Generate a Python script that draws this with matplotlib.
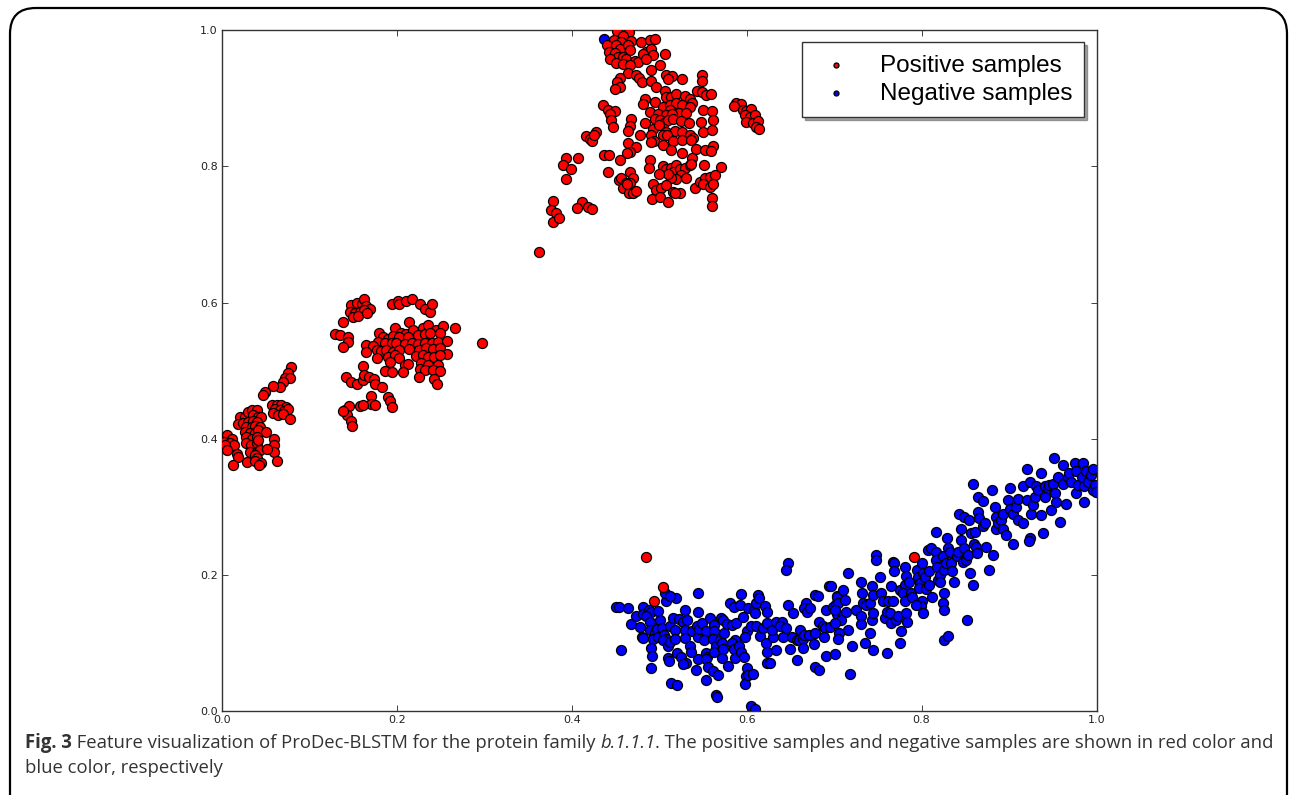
import matplotlib
matplotlib.use("Agg")
import matplotlib.pyplot as plt
from matplotlib.patches import FancyBboxPatch

# positive samples (red)
pos_x = [
    0.079, 0.076, 0.072, 0.078, 0.070, 0.067, 0.058, 0.049, 0.047,
    0.057, 0.0625, 0.068, 0.073, 0.061, 0.066, 0.071, 0.076, 0.059, 0.064, 0.070, 0.078,
    0.0206, 0.0263, 0.030, 0.034, 0.040, 0.0357, 0.0415, 0.045, 0.0187, 0.0244, 0.030,
    0.0357, 0.040, 0.028, 0.034, 0.0377, 0.0434, 0.0263, 0.032, 0.0377, 0.0415, 0.028,
    0.034, 0.040, 0.0053, 0.011, 0.002, 0.009, 0.014, 0.003, 0.0053, 0.028, 0.033,
    0.040, 0.0415, 0.032, 0.040, 0.0434, 0.0168, 0.0187, 0.0377, 0.040, 0.013, 0.029,
    0.0377, 0.045, 0.042, 0.060, 0.060, 0.060, 0.0625, 0.050, 0.052,
    0.148, 0.154, 0.160, 0.163, 0.165, 0.169, 0.146, 0.152, 0.158, 0.163, 0.150, 0.156,
    0.166, 0.194, 0.2015, 0.203, 0.211, 0.217, 0.226, 0.232, 0.238, 0.240, 0.138, 0.129,
    0.135, 0.144, 0.144, 0.138, 0.214, 0.1985, 0.205, 0.211, 0.219, 0.230, 0.236, 0.245,
    0.253, 0.267, 0.180, 0.184, 0.190, 0.196, 0.203, 0.213, 0.224, 0.232, 0.238, 0.249,
    0.179, 0.186, 0.194, 0.1996, 0.209, 0.217, 0.224, 0.232, 0.240, 0.247, 0.257, 0.165,
    0.173, 0.177, 0.1825, 0.188, 0.196, 0.203, 0.214, 0.2255, 0.233, 0.241, 0.249, 0.2575,
    0.165, 0.190, 0.198, 0.203, 0.2225, 0.230, 0.236, 0.243, 0.249, 0.177, 0.192, 0.209,
    0.213, 0.228, 0.236, 0.247, 0.1615, 0.186, 0.194, 0.207, 0.226, 0.232, 0.2415, 0.249,
    0.225, 0.243, 0.2465, 0.2975, 0.1417, 0.148, 0.154, 0.1615, 0.163, 0.168, 0.174,
    0.175, 0.1836, 0.171, 0.190, 0.192, 0.194, 0.171, 0.175, 0.158, 0.161, 0.1406,
    0.1455, 0.143, 0.148, 0.1493, 0.1387,
    0.4518, 0.4651, 0.4587, 0.4480, 0.4568, 0.4682, 0.4796, 0.4899, 0.4949, 0.4400,
    0.4510, 0.4549, 0.4644, 0.4663, 0.4423, 0.4491, 0.4530, 0.4587, 0.4625, 0.4720,
    0.4758, 0.4438, 0.4510, 0.4587, 0.4663, 0.4853, 0.4910, 0.4930, 0.4815, 0.4846,
    0.5063, 0.5006, 0.4910, 0.4644, 0.4739, 0.4770, 0.4808, 0.4910, 0.4968, 0.5082,
    0.5150, 0.5101, 0.5265, 0.5493, 0.5493, 0.4549, 0.4522, 0.4549, 0.4491, 0.5063,
    0.5082, 0.5139, 0.5196, 0.5291, 0.5349, 0.5379, 0.5432, 0.5493, 0.5539, 0.5596,
    0.4834, 0.4815, 0.4949, 0.5044, 0.5120, 0.5189, 0.5265, 0.5227, 0.5349, 0.5120,
    0.4899, 0.4987, 0.5074, 0.5150, 0.5310, 0.5501, 0.5608, 0.4358, 0.4420, 0.4491,
    0.4438, 0.4450, 0.4469, 0.4682, 0.4663, 0.4644, 0.4834, 0.4949, 0.5006, 0.5051,
    0.5101, 0.5158, 0.5253, 0.5341, 0.5482, 0.5615, 0.4930, 0.4998, 0.5082, 0.5177,
    0.5265, 0.5349, 0.5387, 0.5501, 0.5608, 0.4785, 0.4910, 0.4937, 0.5044, 0.5090,
    0.5158, 0.5265, 0.5368, 0.5425, 0.5520, 0.5615, 0.5596, 0.4903, 0.5044, 0.5139,
    0.5265, 0.5379, 0.5509, 0.5710, 0.4644, 0.4739, 0.4671, 0.4632, 0.4549, 0.4411,
    0.4366, 0.4423, 0.4891, 0.4884, 0.5044, 0.5082, 0.5139, 0.5196, 0.5158, 0.5234,
    0.5291, 0.5349, 0.5368, 0.5253, 0.5303, 0.5196, 0.5139, 0.5101, 0.4998, 0.4671,
    0.4701, 0.4663, 0.4541, 0.4568, 0.4617, 0.4587, 0.4655, 0.4701, 0.4731, 0.4632,
    0.4930, 0.4968, 0.5025, 0.4922, 0.5006, 0.5101, 0.5082, 0.5158, 0.5242, 0.5177,
    0.5406, 0.5463, 0.5520, 0.5577, 0.5634, 0.5501, 0.5585, 0.5615, 0.5608, 0.5608,
    0.5882, 0.5939, 0.5851, 0.5958, 0.5996, 0.6053, 0.5977, 0.6034, 0.6091, 0.5996,
    0.6072, 0.6130, 0.6103, 0.6141,
    0.3939, 0.4072, 0.3901, 0.3996, 0.3931, 0.4168, 0.4206, 0.4236, 0.4274, 0.4251,
    0.3787, 0.3768, 0.3825, 0.4118, 0.4061, 0.4187, 0.4236, 0.379, 0.385, 0.363,
    0.4846, 0.5044, 0.4937, 0.791,
]
pos_y = [
    0.505, 0.497, 0.489, 0.489, 0.483, 0.476, 0.478, 0.468, 0.464,
    0.449, 0.450, 0.449, 0.447, 0.443, 0.442, 0.440, 0.443, 0.437, 0.435, 0.436, 0.429,
    0.432, 0.432, 0.4395, 0.442, 0.442, 0.4347, 0.432, 0.432, 0.421, 0.4225, 0.425,
    0.426, 0.425, 0.4175, 0.4175, 0.419, 0.4175, 0.410, 0.408, 0.409, 0.4127, 0.403,
    0.400, 0.403, 0.405, 0.400, 0.395, 0.393, 0.3906, 0.3906, 0.383, 0.393, 0.3906,
    0.393, 0.398, 0.381, 0.381, 0.383, 0.378, 0.373, 0.376, 0.371, 0.362, 0.366,
    0.367, 0.364, 0.3615, 0.400, 0.3906, 0.381, 0.367, 0.410, 0.385,
    0.596, 0.599, 0.598, 0.605, 0.595, 0.591, 0.586, 0.584, 0.586, 0.589, 0.579, 0.580,
    0.585, 0.598, 0.6025, 0.598, 0.6025, 0.605, 0.598, 0.591, 0.586, 0.598, 0.571, 0.5536,
    0.552, 0.549, 0.542, 0.534, 0.572, 0.562, 0.5556, 0.5536, 0.560, 0.562, 0.567, 0.560,
    0.565, 0.562, 0.5546, 0.549, 0.546, 0.551, 0.549, 0.550, 0.552, 0.5536, 0.5546, 0.5546,
    0.542, 0.540, 0.541, 0.540, 0.539, 0.541, 0.539, 0.540, 0.541, 0.542, 0.544, 0.537,
    0.536, 0.530, 0.529, 0.530, 0.528, 0.530, 0.531, 0.530, 0.5326, 0.531, 0.5326, 0.525,
    0.528, 0.520, 0.523, 0.519, 0.521, 0.523, 0.520, 0.520, 0.523, 0.518, 0.513, 0.508,
    0.5095, 0.5105, 0.508, 0.508, 0.5066, 0.4998, 0.498, 0.498, 0.503, 0.5007, 0.5007, 0.4998,
    0.491, 0.487, 0.481, 0.541, 0.491, 0.4836, 0.481, 0.486, 0.493, 0.490, 0.487,
    0.481, 0.476, 0.4626, 0.4616, 0.4557, 0.446, 0.4508, 0.4494, 0.448, 0.449, 0.442,
    0.448, 0.4347, 0.4263, 0.4185, 0.441,
    0.9985, 0.9976, 0.9917, 0.9853, 0.9829, 0.9839, 0.9829, 0.9853, 0.9868, 0.9780,
    0.9780, 0.9731, 0.9790, 0.9706, 0.9682, 0.9672, 0.9608, 0.9608, 0.9584, 0.9545,
    0.9535, 0.9584, 0.9525, 0.9510, 0.9496, 0.9682, 0.9731, 0.9643, 0.9657, 0.9574,
    0.9657, 0.9486, 0.9413, 0.9378, 0.9339, 0.9300, 0.9241, 0.9251, 0.9168, 0.9349,
    0.9324, 0.9280, 0.9290, 0.9339, 0.9251, 0.9300, 0.9241, 0.9168, 0.9134, 0.9104,
    0.9021, 0.9021, 0.9070, 0.9036, 0.8987, 0.8938, 0.9104, 0.9094, 0.9046, 0.9070,
    0.8987, 0.8923, 0.8948, 0.8874, 0.8899, 0.8938, 0.8899, 0.8791, 0.8874, 0.8825,
    0.8801, 0.8762, 0.8752, 0.8762, 0.8791, 0.8825, 0.8810, 0.8899, 0.8825, 0.8810,
    0.8762, 0.8678, 0.8581, 0.8693, 0.8595, 0.8517, 0.8644, 0.8693, 0.8678, 0.8630,
    0.8678, 0.8703, 0.8664, 0.8630, 0.8654, 0.8678, 0.8556, 0.8605, 0.8507, 0.8517,
    0.8507, 0.8458, 0.8419, 0.8507, 0.8532, 0.8458, 0.8458, 0.8370, 0.8458, 0.8458,
    0.8370, 0.8385, 0.8385, 0.8253, 0.8238, 0.8301, 0.8223, 0.8360, 0.8321, 0.8238,
    0.8203, 0.8116, 0.8027, 0.7993, 0.8336, 0.8287, 0.8213, 0.8189, 0.8091, 0.7920,
    0.8160, 0.8174, 0.8091, 0.7978, 0.8003, 0.7968, 0.7978, 0.8018, 0.7920, 0.7959,
    0.7978, 0.8018, 0.8042, 0.7871, 0.7832, 0.7812, 0.7832, 0.7881, 0.7881, 0.7920,
    0.7822, 0.7758, 0.7797, 0.7836, 0.7758, 0.7685, 0.7606, 0.7602, 0.7636, 0.7734,
    0.7734, 0.7651, 0.7685, 0.7518, 0.7553, 0.7480, 0.7724, 0.7626, 0.7602, 0.7602,
    0.7685, 0.7773, 0.7822, 0.7846, 0.7871, 0.7734, 0.7699, 0.7748, 0.7528, 0.7421,
    0.8938, 0.8923, 0.8889, 0.8825, 0.8810, 0.8840, 0.8752, 0.8727, 0.8752, 0.8654,
    0.8644, 0.8664, 0.8581, 0.8546,
    0.8125, 0.8125, 0.8027, 0.7968, 0.7812, 0.8445, 0.8396, 0.8372, 0.8505, 0.8456,
    0.7489, 0.7357, 0.7308, 0.7480, 0.7391, 0.7396, 0.7381, 0.7186, 0.724, 0.6745,
    0.2257, 0.1826, 0.162, 0.2266,
]

# negative samples (blue)
neg_x = [
    0.4366,
    0.451, 0.454, 0.464, 0.456, 0.468, 0.473, 0.478, 0.482, 0.481, 0.488, 0.491, 0.485,
    0.489, 0.480, 0.482, 0.490, 0.495, 0.493, 0.491, 0.492, 0.491, 0.499, 0.501, 0.498,
    0.499, 0.503, 0.506, 0.508, 0.504, 0.512, 0.510, 0.518, 0.512, 0.518, 0.520, 0.516,
    0.519, 0.508, 0.507, 0.512, 0.523, 0.527, 0.530, 0.532, 0.529, 0.530, 0.535, 0.536,
    0.525, 0.531, 0.527, 0.510, 0.511, 0.514, 0.520, 0.544, 0.544, 0.538, 0.543, 0.544,
    0.546, 0.549, 0.553, 0.551, 0.544, 0.553, 0.555, 0.554, 0.556, 0.542, 0.554, 0.562,
    0.567, 0.565, 0.566, 0.558, 0.563, 0.563, 0.562, 0.565, 0.563, 0.570, 0.571, 0.573,
    0.574, 0.572, 0.573, 0.572, 0.579, 0.577, 0.583, 0.581, 0.586, 0.588, 0.587, 0.583,
    0.585, 0.587, 0.592, 0.596, 0.594, 0.591, 0.593, 0.597, 0.600, 0.599, 0.598, 0.602,
    0.607, 0.600, 0.598, 0.602, 0.608, 0.610, 0.611, 0.613, 0.614, 0.605, 0.611, 0.615,
    0.619, 0.623, 0.621, 0.623, 0.622, 0.623, 0.623, 0.627, 0.630, 0.629, 0.634, 0.640,
    0.642, 0.638, 0.633, 0.645, 0.647, 0.653, 0.652, 0.650, 0.657, 0.657, 0.660, 0.661,
    0.664, 0.664, 0.668, 0.666, 0.669, 0.673, 0.665, 0.671, 0.678, 0.677, 0.678, 0.683,
    0.678, 0.682, 0.683, 0.687, 0.691, 0.690, 0.689, 0.691, 0.695, 0.699, 0.694, 0.702,
    0.703, 0.701, 0.703, 0.647, 0.645, 0.605, 0.609,
    0.697, 0.703, 0.704, 0.701, 0.710, 0.712, 0.714, 0.708, 0.701, 0.716, 0.706, 0.716,
    0.725, 0.731, 0.732, 0.733, 0.731, 0.731, 0.737, 0.741, 0.743, 0.744, 0.743, 0.744,
    0.741, 0.748, 0.748, 0.752, 0.754, 0.756, 0.758, 0.760, 0.762, 0.765, 0.767, 0.769,
    0.767, 0.765, 0.764, 0.769, 0.771, 0.773, 0.775, 0.776, 0.781, 0.782, 0.781, 0.779,
    0.781, 0.782, 0.783, 0.786, 0.788, 0.789, 0.795, 0.796, 0.798, 0.797, 0.800, 0.800,
    0.799, 0.794, 0.802, 0.802, 0.804, 0.805, 0.807, 0.809, 0.811, 0.809, 0.812, 0.816,
    0.817, 0.816, 0.818, 0.819, 0.821, 0.821, 0.824, 0.826, 0.828, 0.829, 0.826, 0.825,
    0.826, 0.830, 0.832, 0.834, 0.835, 0.837, 0.840, 0.842, 0.843, 0.845, 0.845, 0.847,
    0.849, 0.849, 0.851, 0.853, 0.854, 0.855, 0.859, 0.857, 0.861, 0.860, 0.862, 0.863,
    0.864, 0.866, 0.859, 0.864, 0.870, 0.870, 0.872, 0.874, 0.877, 0.882, 0.880, 0.884,
    0.885, 0.885, 0.887, 0.891, 0.893, 0.893, 0.897, 0.899, 0.901, 0.901, 0.904, 0.904,
    0.908, 0.910, 0.910, 0.916, 0.916, 0.920, 0.920, 0.924, 0.923, 0.924, 0.925, 0.927,
    0.930, 0.931, 0.933, 0.937, 0.937, 0.939, 0.941, 0.941, 0.944, 0.946, 0.948, 0.950,
    0.951, 0.953, 0.956, 0.954, 0.958, 0.962, 0.962, 0.965, 0.967, 0.969, 0.971, 0.975,
    0.977, 0.977, 0.979, 0.983, 0.985, 0.986, 0.986, 0.988, 0.990, 0.994, 0.996, 0.996,
    0.998, 0.999, 0.852, 0.826, 0.830,
    0.718, 0.745, 0.760, 0.775, 0.735, 0.720, 0.705,
]
neg_y = [
    0.9868,
    0.152, 0.152, 0.151, 0.090, 0.128, 0.140, 0.123, 0.152, 0.143, 0.148, 0.146, 0.139,
    0.131, 0.108, 0.107, 0.119, 0.115, 0.105, 0.092, 0.081, 0.063, 0.147, 0.134, 0.120,
    0.109, 0.122, 0.112, 0.105, 0.104, 0.125, 0.095, 0.119, 0.102, 0.105, 0.085, 0.136,
    0.166, 0.162, 0.174, 0.169, 0.135, 0.131, 0.148, 0.133, 0.119, 0.107, 0.096, 0.086,
    0.080, 0.070, 0.069, 0.078, 0.073, 0.041, 0.038, 0.173, 0.146, 0.118, 0.125, 0.109,
    0.120, 0.129, 0.117, 0.104, 0.076, 0.085, 0.080, 0.076, 0.064, 0.060, 0.046, 0.059,
    0.053, 0.024, 0.020, 0.136, 0.126, 0.118, 0.105, 0.095, 0.086, 0.104, 0.136, 0.134,
    0.115, 0.100, 0.091, 0.078, 0.066, 0.128, 0.126, 0.158, 0.152, 0.129, 0.104, 0.100,
    0.091, 0.078, 0.156, 0.138, 0.172, 0.096, 0.087, 0.080, 0.063, 0.052, 0.040, 0.053,
    0.055, 0.117, 0.109, 0.151, 0.148, 0.144, 0.159, 0.170, 0.166, 0.125, 0.125, 0.110,
    0.122, 0.129, 0.154, 0.145, 0.100, 0.087, 0.071, 0.070, 0.109, 0.119, 0.131, 0.131,
    0.109, 0.125, 0.090, 0.122, 0.156, 0.144, 0.109, 0.091, 0.104, 0.075, 0.104, 0.119,
    0.105, 0.092, 0.159, 0.151, 0.146, 0.151, 0.112, 0.112, 0.115, 0.099, 0.064, 0.060,
    0.170, 0.169, 0.131, 0.125, 0.148, 0.122, 0.109, 0.081, 0.123, 0.153, 0.184, 0.157,
    0.169, 0.083, 0.143, 0.217, 0.207, 0.007, 0.003,
    0.183, 0.168, 0.159, 0.149, 0.178, 0.163, 0.146, 0.134, 0.129, 0.119, 0.114, 0.203,
    0.149, 0.190, 0.173, 0.159, 0.139, 0.128, 0.156, 0.159, 0.183, 0.171, 0.134, 0.144,
    0.114, 0.229, 0.222, 0.197, 0.174, 0.161, 0.136, 0.146, 0.161, 0.129, 0.219, 0.217,
    0.161, 0.183, 0.144, 0.206, 0.134, 0.139, 0.178, 0.118, 0.212, 0.198, 0.185, 0.173,
    0.161, 0.144, 0.130, 0.189, 0.173, 0.168, 0.207, 0.197, 0.188, 0.180, 0.218, 0.161,
    0.154, 0.156, 0.144, 0.202, 0.197, 0.179, 0.237, 0.205, 0.239, 0.185, 0.168, 0.263,
    0.234, 0.222, 0.212, 0.193, 0.200, 0.189, 0.227, 0.207, 0.217, 0.254, 0.173, 0.158,
    0.149, 0.239, 0.234, 0.218, 0.205, 0.190, 0.227, 0.234, 0.290, 0.268, 0.251, 0.219,
    0.239, 0.285, 0.222, 0.229, 0.281, 0.202, 0.185, 0.262, 0.263, 0.246, 0.241, 0.232,
    0.293, 0.283, 0.333, 0.314, 0.309, 0.271, 0.276, 0.241, 0.207, 0.229, 0.324, 0.299,
    0.285, 0.268, 0.276, 0.281, 0.290, 0.268, 0.259, 0.310, 0.327, 0.296, 0.290, 0.246,
    0.300, 0.312, 0.281, 0.276, 0.330, 0.356, 0.310, 0.254, 0.249, 0.337, 0.290, 0.303,
    0.315, 0.330, 0.324, 0.349, 0.288, 0.262, 0.331, 0.315, 0.327, 0.332, 0.295, 0.334,
    0.371, 0.320, 0.344, 0.307, 0.278, 0.334, 0.361, 0.304, 0.344, 0.349, 0.337, 0.364,
    0.352, 0.320, 0.332, 0.344, 0.364, 0.330, 0.307, 0.352, 0.337, 0.347, 0.325, 0.356,
    0.332, 0.322, 0.133, 0.104, 0.110,
    0.055, 0.090, 0.085, 0.100, 0.100, 0.095, 0.105,
]

plt.rcParams['font.family'] = ['DejaVu Sans']
fig = plt.figure(figsize=(12.9, 7.95), dpi=100)
ax = fig.add_axes([0.172, 0.1057, 0.678, 0.8563])

ax.scatter(pos_x, pos_y, s=52, c='red', edgecolors='black', linewidths=0.9,
           label='Positive samples', zorder=3)
ax.scatter(neg_x, neg_y, s=52, c='blue', edgecolors='black', linewidths=0.9,
           label='Negative samples', zorder=2)

ax.set_xlim(0, 1)
ax.set_ylim(0, 1)
ax.set_xticks([0.0, 0.2, 0.4, 0.6, 0.8, 1.0])
ax.set_yticks([0.0, 0.2, 0.4, 0.6, 0.8, 1.0])
ax.tick_params(direction='in', top=True, right=True, labelsize=8, length=4,
               width=0.6, colors='#222222', pad=3)
for sp in ax.spines.values():
    sp.set_linewidth(1.0)
    sp.set_color('#333333')

leg = ax.legend(loc='upper right', bbox_to_anchor=(0.986, 0.982), borderaxespad=0,
                scatterpoints=1, markerscale=0.5, fancybox=False, shadow=True,
                framealpha=1, prop={'family': 'Liberation Sans', 'size': 17.5},
                borderpad=0.5, handletextpad=0.85, labelspacing=0.25,
                handlelength=1.85)
leg.get_frame().set_edgecolor('#333333')

# rounded frame around the whole figure
frame = FancyBboxPatch((10 / 1290, -0.05), 1277 / 1290, 1.0 - 8 / 795 + 0.05,
                       boxstyle='round,pad=0,rounding_size=0.02',
                       transform=fig.transFigure, fill=False, lw=1.6,
                       edgecolor='black', mutation_aspect=1290 / 795)
fig.patches.append(frame)

# caption with bold and italic pieces
cap_color = '#333333'
cap_font = 'Open Sans'
cap_size = 13.35
renderer = fig.canvas.get_renderer()
line1 = [("Fig. 3", 'bold', 'normal'),
         (" Feature visualization of ProDec-BLSTM for the protein family ", 'normal', 'normal'),
         ("b.1.1.1", 'normal', 'italic'),
         (". The positive samples and negative samples are shown in red color and", 'normal', 'normal')]
x0 = 25 / 1290
y1 = 1 - 748 / 795
xpos = x0
for txt, w, st in line1:
    t = fig.text(xpos, y1, txt, fontsize=cap_size, family=cap_font, weight=w,
                 style=st, color=cap_color, ha='left', va='baseline')
    bb = t.get_window_extent(renderer=renderer)
    xpos += bb.width / (1290)
fig.text(x0, 1 - 773 / 795, "blue color, respectively", fontsize=cap_size,
         family=cap_font, color=cap_color, ha='left', va='baseline')

fig.savefig('out.png', dpi=100)
